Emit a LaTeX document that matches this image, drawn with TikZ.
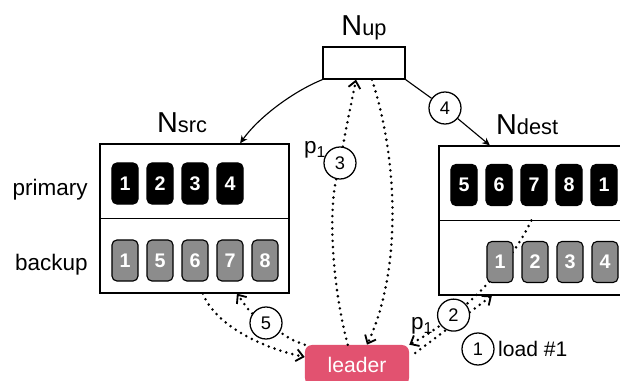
\documentclass[tikz,border=0pt]{standalone}
\usepackage{fontspec}
\setmainfont{Liberation Sans}
\usetikzlibrary{positioning,arrows.meta}
\definecolor{leaderred}{RGB}{226,82,112}
\definecolor{chipgray}{RGB}{140,140,140}
\newcommand{\subfont}{\fontsize{15.5}{18}\selectfont}

\begin{document}
\begin{tikzpicture}[x=0.025cm, y=-0.025cm, node distance={8.75mm},
    box/.style = {draw, line width=0.9pt, inner sep=0pt},
    prim/.style = {draw, fill=black, rounded corners=3.5pt, line width=0.8pt, minimum width=6.5mm, minimum height=10.25mm, inner sep=0pt, text=white, font=\fontsize{14}{16}\selectfont\bfseries},
    back/.style = {prim, fill=chipgray},
    num/.style = {draw, solid, circle, fill=white, line width=0.9pt, minimum size=8mm, inner sep=0pt, font=\fontsize{13}{15}\selectfont},
    title/.style = {anchor=base, inner sep=0pt, font=\fontsize{20.5}{24}\selectfont},
    side/.style = {anchor=east, inner sep=0pt, font=\fontsize{16}{19}\selectfont},
    plabel/.style = {inner sep=0pt, font=\fontsize{16}{19}\selectfont},
    conn/.style = {line width=0.8pt, -{Stealth[length=5.5pt, width=5pt]}},
    dots/.style = {line width=2pt, line cap=round, dash pattern=on 0pt off 4.4pt},
    dotarr/.style = {dots, -{Straight Barb[length=5pt, width=8.5pt, line width=1.3pt]}}]
    \useasboundingbox (0,0) rectangle (620,381);

    % servers
    \node[box, minimum width=4.725cm, minimum height=3.725cm] (src) at (194.5,218.5) {};
    \node[box, minimum width=5.025cm, minimum height=3.725cm] (dest) at (539.5,220.5) {};
    \node[box, minimum width=2.05cm, minimum height=0.8cm] (up) at (364,63) {};
    \node[fill=leaderred, rounded corners=5pt, minimum width=2.6cm, minimum height=1cm, text=white, font=\fontsize{15}{18}\selectfont] (leader) at (357,365) {leader};
    \draw[line width=0.9pt] (src.west) -- (src.east);
    \draw[line width=0.9pt] (dest.west) -- (dest.east);

    \node[title] (srcname) at ([xshift=-3.1mm, yshift=2.75mm]src.north) {N{\subfont src}};
    \node[title] (destname) at ([xshift=-3.1mm, yshift=2.75mm]dest.north) {N{\subfont dest}};
    \node[title] (upname) at ([yshift=2.75mm]up.north) {N{\subfont up}};

    \node[side] (primary) at (88,190) {primary};
    \node[side] (backup) at (88,265) {backup};

    % load and move of partition 1 (under the chips)
    \draw[dotarr] ([xshift=1.5mm, yshift=3mm]leader.east) -- ([xshift=-11.9mm]dest.south);
    \draw[dotarr] ([xshift=23.25mm]dest.west) .. controls (505,275) and (455,320) .. node[num, pos=0.68] (c2) {2} (leader.north east);

    % partitions on N_src
    \node[prim] (s1) at (125,183.5) {1};
    \node[prim] (s2) [right of=s1] {2};
    \node[prim] (s3) [right of=s2] {3};
    \node[prim] (s4) [right of=s3] {4};
    \node[back] (b1) at (125,260.5) {1};
    \node[back] (b2) [right of=b1] {5};
    \node[back] (b3) [right of=b2] {6};
    \node[back] (b4) [right of=b3] {7};
    \node[back] (b5) [right of=b4] {8};

    % partitions on N_dest
    \node[prim] (d1) at (464,185) {5};
    \node[prim] (d2) [right of=d1] {6};
    \node[prim] (d3) [right of=d2] {7};
    \node[prim] (d4) [right of=d3] {8};
    \node[prim] (d5) [right of=d4] {1};
    \node[back] (e1) at (500,262) {1};
    \node[back] (e2) [right of=e1] {2};
    \node[back] (e3) [right of=e2] {3};
    \node[back] (e4) [right of=e3] {4};

    % steps
    \node[num] (c4) at (445,108) {4};
    \node[num] (c3) at (340,163) {3};
    \node[num] (c5) at (266,323) {5};
    \node[num] (c1) at (478,349) {1};
    \node[inner sep=0pt, font=\fontsize{15}{18}\selectfont, right=0.8mm of c1] (load) {load \#1};
    \node[plabel] (p3) at (315,150) {p\textsubscript{1}};
    \node[plabel] (p2) at (422,326) {p\textsubscript{1}};

    \draw[conn] (up.south west) .. controls (292,92) and (258,118) .. ([xshift=11.4mm]src.north);
    \draw[line width=0.8pt] (up.south east) -- (c4);
    \draw[conn] (c4) -- ([xshift=-12.4mm]dest.north);

    \draw[dotarr] (c3) .. controls (346,128) and (352,100) .. ([xshift=-2mm]up.south);
    \draw[dots] ([xshift=-2.3mm]leader.north) .. controls (333,290) and (328,215) .. (c3);
    \draw[dotarr] ([xshift=2mm]up.south) .. controls (398,160) and (402,270) .. ([xshift=2.5mm]leader.north);

    \draw[dotarr] ([xshift=2.1mm]src.south) .. controls (215,325) and (262,348) .. ([yshift=2mm]leader.west);
    \draw[dots] (leader.north west) .. controls (292,340) .. (c5);
    \draw[dotarr] (c5) .. controls (250,312) .. ([xshift=10.6mm]src.south);
\end{tikzpicture}
\end{document}
